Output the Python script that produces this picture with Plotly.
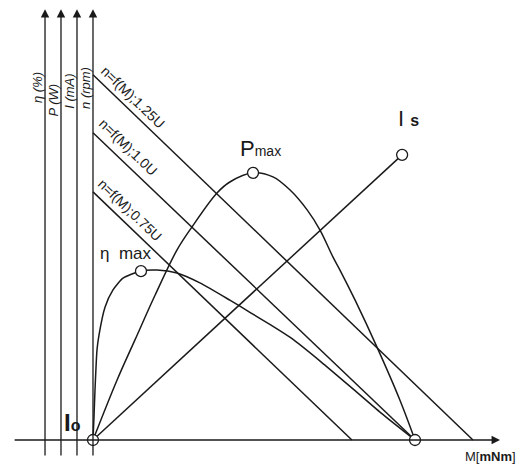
import plotly.graph_objects as go

# Torque axis: 0 = no load, 100 = stall torque (arbitrary units)
# Ordinate: 0..100 relative scale shared by n, I, P and eta

# efficiency curve eta = f(M)
eta_m = [0, 0.31, 0.62, 1.24, 1.86, 3.73, 6.21, 9.32, 14.6, 19.9, 26.1, 33.2,
         42.5, 49.1, 55.3, 61.5, 70.8, 80.1, 89.4, 100]
eta_v = [0, 6.3, 13.6, 24.5, 28.6, 36.2, 40.9, 44.1, 46.0, 46.3, 45.5, 42.8,
         38.1, 34.6, 31.3, 27.8, 21.3, 14.4, 7.4, 0]

# output power curve P = f(M)
pow_m = [0, 7.45, 13.0, 19.3, 26.1, 30.7, 38.5, 42.5, 49.7, 55.9, 61.2, 66.5,
         70.5, 74.5, 76.7, 81.4, 88.2, 95.3, 100]
pow_v = [0, 16.3, 27.2, 39.5, 51.8, 58.0, 67.3, 70.3, 72.8, 71.7, 68.1, 62.7,
         57.2, 49.9, 46.3, 38.1, 25.3, 10.9, 0]

# current line I = f(M), from I0 to Is
cur_m = [0, 96.0]
cur_v = [0, 77.7]

# speed lines n = f(M) at three supply voltages
speed_labels = ["n=f(M);1.25U", "n=f(M);1.0U", "n=f(M);0.75U"]
speed_no_load = [99.5, 83.7, 67.6]
speed_stall = [118.0, 100.0, 80.4]

# marked points
pmax_point = (49.7, 72.8)
etamax_point = (14.9, 46.0)
is_point = (96.0, 77.7)
stall_point = (100.0, 0.0)
origin_point = (0.0, 0.0)

axis_labels = ["η (%)", "P (W)", "I (mA)", "n (rpm)"]

INK = "#1a1a1a"
FONT = "Liberation Sans, Arial, sans-serif"
LW = 1.5

X_RANGE = [-28.88, 133.23]
Y_RANGE = [-6.54, 119.89]
AXIS_X = [-14.9, -9.94, -4.97, 0.0]
AXIS_TOP = 117.4
AXIS_BOTTOM = -4.6

fig = go.Figure()

line = dict(color=INK, width=LW)

for label, n0, ms in zip(speed_labels, speed_no_load, speed_stall):
    fig.add_trace(go.Scatter(x=[0, ms], y=[n0, 0], mode="lines", line=line,
                             name=label, hoverinfo="skip"))

fig.add_trace(go.Scatter(x=cur_m, y=cur_v, mode="lines", line=line, name="I"))
fig.add_trace(go.Scatter(x=pow_m, y=pow_v, mode="lines", line_shape="spline",
                         line=line, name="P"))
fig.add_trace(go.Scatter(x=eta_m, y=eta_v, mode="lines", line_shape="spline",
                         line=dict(color=INK, width=LW, smoothing=0.6),
                         name="eta"))

pts = [origin_point, stall_point, pmax_point, etamax_point, is_point]
fig.add_trace(go.Scatter(
    x=[p[0] for p in pts], y=[p[1] for p in pts], mode="markers",
    marker=dict(size=11, color="white", line=dict(color=INK, width=1.3)),
    name="points",
))

annotations = []

# vertical axes with arrows
for ax_x in AXIS_X:
    annotations.append(dict(
        x=ax_x, y=AXIS_TOP, ax=ax_x, ay=AXIS_BOTTOM, xref="x", yref="y",
        axref="x", ayref="y", text="", showarrow=True, arrowhead=2,
        arrowsize=1.3, arrowwidth=1.3, arrowcolor=INK,
    ))

# horizontal torque axis
annotations.append(dict(
    x=126.4, y=0, ax=-24.8, ay=0, xref="x", yref="y", axref="x", ayref="y",
    text="", showarrow=True, arrowhead=2, arrowsize=1.3, arrowwidth=1.3,
    arrowcolor=INK,
))

# axis names, rotated
label_pos = [(-17.3, 96.0), (-12.4, 92.5), (-7.3, 95.0), (-2.4, 96.0)]
for txt, (lx, ly) in zip(axis_labels, label_pos):
    annotations.append(dict(
        x=lx, y=ly, text="<i>%s</i>" % txt, showarrow=False, textangle=-90,
        font=dict(family=FONT, size=13, color=INK),
    ))

# speed line labels
speed_label_pos = [(12.4, 93.5), (10.9, 79.8), (11.5, 62.7)]
for txt, (lx, ly) in zip(speed_labels, speed_label_pos):
    annotations.append(dict(
        x=lx, y=ly, text=txt, showarrow=False, textangle=44,
        font=dict(family=FONT, size=14, color=INK),
    ))

annotations += [
    dict(x=52.0, y=79.5, text="P<span style='font-size:14px'>max</span>",
         showarrow=False, font=dict(family=FONT, size=22, color=INK)),
    dict(x=10.2, y=50.9, text="η\u00a0 max", showarrow=False,
         font=dict(family=FONT, size=17, color=INK)),
    dict(x=98.1, y=87.5,
         text="I <span style='font-size:16px'><b>s</b></span>",
         showarrow=False, font=dict(family=FONT, size=22, color=INK)),
    dict(x=-6.5, y=4.8,
         text="<b>I</b><span style='font-size:16px'><b>o</b></span>",
         showarrow=False, font=dict(family=FONT, size=24, color=INK)),
    dict(x=123.4, y=-4.6, text="M[<b>mNm</b>]", showarrow=False,
         font=dict(family=FONT, size=13, color=INK)),
]

fig.update_layout(
    width=522,
    height=464,
    margin=dict(l=0, r=0, t=0, b=0),
    paper_bgcolor="white",
    plot_bgcolor="white",
    showlegend=False,
    xaxis=dict(range=X_RANGE, visible=False, fixedrange=True),
    yaxis=dict(range=Y_RANGE, visible=False, fixedrange=True),
    annotations=annotations,
)

# the page body has a default 8px margin; drop it so the figure fills the window
fig.write_html(
    "out.html",
    config={"displayModeBar": False},
    post_script="document.body.style.margin='0';document.body.style.overflow='hidden';",
)
